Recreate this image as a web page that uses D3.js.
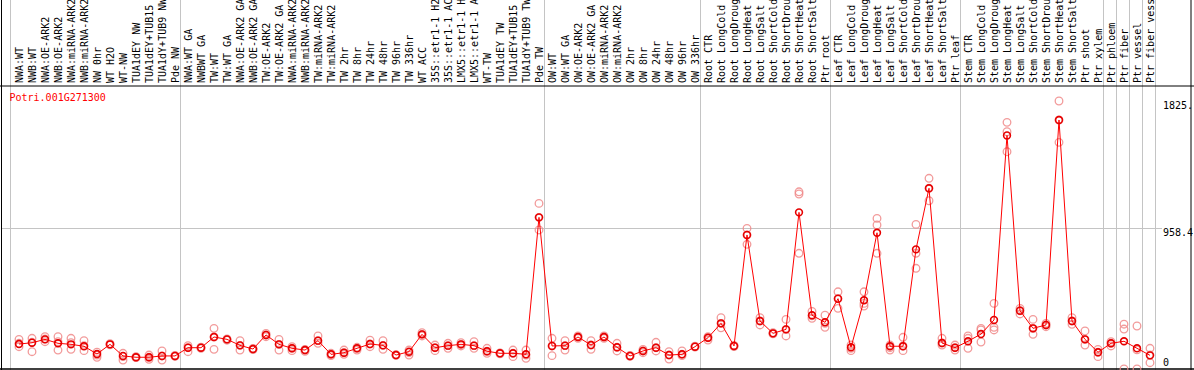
<!DOCTYPE html>
<html>
<head>
<meta charset="utf-8">
<script src="https://cdn.jsdelivr.net/npm/d3@7"></script>
<style>
  html, body { margin: 0; padding: 0; background: #fff; }
  svg { display: block; font-family: "DejaVu Sans Mono", monospace; font-size: 10px; }
</style>
</head>
<body>
<svg id="chart" width="1194" height="370"></svg>
<script>
const geneId = "Potri.001G271300";

const samples = [
  "NWA:WT", "NWB:WT", "NWA:OE-ARK2", "NWB:OE-ARK2", "NWA:miRNA-ARK2", "NWB:miRNA-ARK2",
  "NW 0hr", "WT H2O", "WT-NW", "TUA1dEY NW", "TUA1dEY+TUB15 NW", "TUA1dY+TUB9 NW", "Pde NW",
  "NWA:WT GA", "NWBWT GA", "TW:WT", "TW:WT GA", "NWA:OE-ARK2 GA", "NWB:OE-ARK2 GA",
  "TW:OE-ARK2", "TW:OE-ARK2 GA", "NWA:miRNA-ARK2 GA", "NWB:miRNA-ARK2 GA", "TW:miRNA-ARK2",
  "TW:miRNA-ARK2 GA", "TW 2hr", "TW 8hr", "TW 24hr", "TW 48hr", "TW 96hr", "TW 336hr",
  "WT ACC", "35S::etr1-1 H2O", "35S::etr1-1 ACC", "LMX5::etr1-1 H2O", "LMX5::etr1-1 ACC",
  "WT-TW", "TUA1dEY TW", "TUA1dEY+TUB15 TW", "TUA1dY+TUB9 TW", "Pde TW",
  "OW:WT", "OW:WT GA", "OW:OE-ARK2", "OW:OE-ARK2 GA", "OW:miRNA-ARK2", "OW:miRNA-ARK2 GA",
  "OW 2hr", "OW 8hr", "OW 24hr", "OW 48hr", "OW 96hr", "OW 336hr",
  "Root CTR", "Root LongCold", "Root LongDrought", "Root LongHeat", "Root LongSalt",
  "Root ShortCold", "Root ShortDrought", "Root ShortHeat", "Root ShortSalt", "Ptr root",
  "Leaf CTR", "Leaf LongCold", "Leaf LongDrought", "Leaf LongHeat", "Leaf LongSalt",
  "Leaf ShortCold", "Leaf ShortDrought", "Leaf ShortHeat", "Leaf ShortSalt", "Ptr leaf",
  "Stem CTR", "Stem LongCold", "Stem LongDrought", "Stem LongHeat", "Stem LongSalt",
  "Stem ShortCold", "Stem ShortDrought", "Stem ShortHeat", "Stem ShortSalt", "Ptr shoot",
  "Ptr xylem", "Ptr phloem", "Ptr fiber", "Ptr vessel", "Ptr fiber vessel"
];

const means = [
  170, 179, 202, 175, 168, 155, 102, 168, 89, 80, 80, 89, 89,
  145, 145, 218, 202, 161, 136, 232, 168, 141, 129, 193, 100, 111, 141, 170, 161, 95,
  118, 236, 145, 159, 168, 159, 121, 107, 107, 100, 1033,
  157, 159, 218, 163, 218, 148, 89, 123, 145, 95, 100, 152,
  213, 311, 157, 913, 327, 243, 270, 1067, 366, 318,
  479, 148, 468, 928, 155, 155, 815, 1231, 177, 145,
  189, 238, 334, 1591, 397, 277, 300, 1696, 327, 202, 114,
  175, 189, 141, 93
];

const replicates = [
  [202, 175, 152], [209, 182, 118], [220, 204, 186], [220, 186, 129], [209, 179, 134],
  [193, 159, 125], [114, 95, 80], [165, 168, 172], [107, 84, 61], [78, 80, 84],
  [95, 80, 66], [123, 89, 61], [86, 89, 92],
  [159, 145, 118], [141, 145, 149], [277, 218, 134], [205, 200, 196], [193, 161, 129],
  [132, 136, 140], [243, 232, 220], [202, 168, 129], [152, 141, 125], [134, 129, 121],
  [225, 193, 175], [107, 100, 91], [129, 111, 100], [148, 141, 129], [197, 170, 152],
  [193, 161, 134], [93, 95, 98], [129, 111, 95], [247, 236, 225], [163, 145, 125],
  [175, 159, 141], [179, 168, 157], [186, 159, 141], [141, 121, 107], [104, 107, 110],
  [129, 107, 84], [129, 95, 73], [1128, 1033, 947],
  [209, 157, 91], [193, 159, 129], [225, 218, 209], [193, 163, 134], [225, 218, 209],
  [175, 148, 123], [86, 89, 92], [134, 123, 111], [182, 145, 123], [118, 95, 68],
  [123, 100, 91], [150, 152, 155],
  [220, 213, 197], [349, 311, 281], [153, 157, 161], [958, 913, 849], [349, 327, 300],
  [239, 243, 247], [338, 270, 225], [1207, 1192, 788], [392, 362, 345], [366, 311, 284],
  [526, 479, 413], [163, 141, 125], [526, 447, 429], [1026, 981, 788], [163, 145, 129],
  [216, 157, 125], [985, 788, 686], [1299, 1231, 1146], [209, 177, 163], [163, 145, 129],
  [225, 209, 141], [277, 266, 184], [447, 284, 266], [1680, 1616, 1480], [413, 397, 375],
  [338, 277, 236], [311, 300, 288], [1825.6, 1696, 1544], [349, 327, 304], [259, 202, 163],
  [134, 114, 84], [186, 175, 157], [305, 272, 0], [293, 130, 0], [141, 95, 43]
];

// first sample index of each block separated by a grey line
const groupStarts = [0, 13, 41, 53, 63, 73, 84, 85, 86, 87];

const yMax = 1916.8;
const tickValues = [1825.6, 958.4, 0];
const tickLabels = ["1825.", "958.4", "0"];
const gridValues = [958.4];

const W = 1194, H = 370;
const svg = d3.select("#chart");

const x = d3.scalePoint()
    .domain(d3.range(samples.length))
    .range([19, 1150]);

const y = d3.scaleLinear()
    .domain([0, yMax])
    .range([369, 87.6]);

const grid = svg.append("g").attr("stroke", "#c4c4c4").attr("stroke-width", 1);

// vertical block separators
groupStarts.forEach((g, k) => {
  let gx = k == 0 ? x(g) - 8.5 : x(g) - 7.5;
  grid.append("line")
      .attr("x1", gx).attr("x2", gx)
      .attr("y1", 0).attr("y2", H);
});
let lastX = x(samples.length - 1) + 5.5;
grid.append("line")
    .attr("x1", lastX).attr("x2", lastX)
    .attr("y1", 0).attr("y2", H);

// horizontal grid
gridValues.forEach(v => {
  grid.append("line")
      .attr("x1", 1).attr("x2", 1162)
      .attr("y1", Math.round(y(v)) + 0.5).attr("y2", Math.round(y(v)) + 0.5);
});

// frame
const frame = svg.append("g").attr("stroke", "#000").attr("stroke-width", 1);
frame.append("line").attr("x1", 0).attr("x2", W).attr("y1", 86).attr("y2", 86);
frame.append("line").attr("x1", 0).attr("x2", W).attr("y1", 369).attr("y2", 369).attr("stroke-width", 1.5);
frame.append("line").attr("x1", 1.5).attr("x2", 1.5).attr("y1", 0).attr("y2", H);
frame.append("line").attr("x1", 1191).attr("x2", 1191).attr("y1", 0).attr("y2", H);

// sample labels, vertical
svg.append("g")
  .selectAll("text")
  .data(samples)
  .enter().append("text")
    .attr("transform", (d, i) => `translate(${x(i) + 4},83) rotate(-90)`)
    .attr("fill", "#000")
    .text(d => d);

// title
svg.append("text")
    .attr("x", 9.5)
    .attr("y", 101)
    .attr("fill", "#ff0000")
    .text(geneId);

// y labels on the right
svg.append("g")
  .selectAll("text")
  .data(tickValues)
  .enter().append("text")
    .attr("x", 1163)
    .attr("y", d => Math.min(y(d) + 8, 366))
    .attr("fill", "#000")
    .text((d, i) => tickLabels[i]);

// replicate circles
const reps = [];
replicates.forEach((r, i) => r.forEach(v => reps.push({i, v})));

svg.append("g")
  .selectAll("circle")
  .data(reps)
  .enter().append("circle")
    .attr("cx", d => x(d.i))
    .attr("cy", d => y(d.v))
    .attr("r", 3.8)
    .attr("fill", "none")
    .attr("stroke", "#f08a8a")
    .attr("stroke-opacity", 0.85)
    .attr("stroke-width", 1.3);

// mean line
const line = d3.line()
    .x((d, i) => x(i))
    .y(d => y(d));

svg.append("path")
    .datum(means)
    .attr("d", line)
    .attr("fill", "none")
    .attr("stroke", "#ff0000")
    .attr("stroke-width", 1);

svg.append("g")
  .selectAll("circle")
  .data(means)
  .enter().append("circle")
    .attr("cx", (d, i) => x(i))
    .attr("cy", d => y(d))
    .attr("r", 3.4)
    .attr("fill", "none")
    .attr("stroke", "#e60000")
    .attr("stroke-width", 1.6);
</script>
</body>
</html>
